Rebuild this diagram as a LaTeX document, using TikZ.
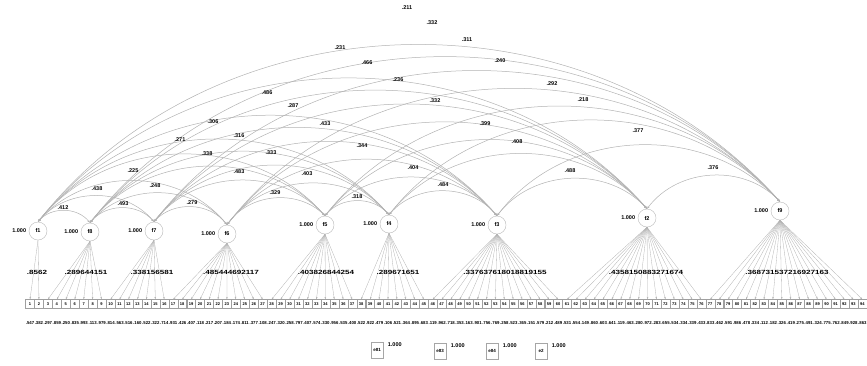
\documentclass[tikz,border=0pt]{standalone}
\usepackage{fontspec}
\usepackage{graphicx}
\setmainfont{Liberation Sans}
\usetikzlibrary{arrows.meta,positioning}
\begin{document}
\begin{tikzpicture}[x=1pt,y=-1pt,
  fac/.style={circle,draw=gray!55,line width=0.4pt,minimum size=18pt,inner sep=0pt,font=\fontsize{5.5}{6}\selectfont\bfseries},
  corr/.style={draw=gray!60,line width=0.5pt,{Stealth[length=3pt,width=2pt]}-{Stealth[length=3pt,width=2pt]}},
  lab/.style={font=\fontsize{5.5}{6}\selectfont\bfseries,inner sep=0.5pt},
  ldlab/.style={font=\fontsize{6}{6}\selectfont\bfseries,inner sep=0pt},
  ind/.style={draw=gray!75,line width=0.3pt,minimum width=8.9pt,minimum height=9pt,inner sep=0pt,font=\fontsize{4}{4}\selectfont\bfseries},
  errlab/.style={font=\fontsize{4.3}{5}\selectfont\bfseries,inner sep=0pt},
  load/.style={draw=gray!60,line width=0.3pt,-{Stealth[length=2.5pt,width=1.6pt]}},
  lone/.style={draw=gray!70,line width=0.4pt,minimum width=12pt,minimum height=16pt,inner sep=0pt,font=\fontsize{4.5}{5}\selectfont\bfseries}]
\useasboundingbox (0,0) rectangle (867,365);
% factors
\node[fac] (f1) at (38,231) {f1};
\node[fac] (f8) at (90,232) {f8};
\node[fac] (f7) at (154,231) {f7};
\node[fac] (f6) at (227,234) {f6};
\node[fac] (f5) at (325,225) {f5};
\node[fac] (f4) at (389,224) {f4};
\node[fac] (f3) at (497,225) {f3};
\node[fac] (f2) at (647,218) {f2};
\node[fac] (f9) at (780,211) {f9};
\foreach \f in {f1,f8,f7,f6,f5,f4,f3,f2,f9}
  \node[lab,left=2pt of \f] (v\f) {1.000};
% correlations
\foreach \a [count=\i] in {f1,f8,f7,f6,f5,f4,f3,f2,f9}{
  \foreach \b [count=\j] in {f1,f8,f7,f6,f5,f4,f3,f2,f9}{
    \ifnum\j>\i \draw[corr] (\a.north) to[bend left=50] (\b.north);\fi
  }
}
\foreach \t/\x/\y [count=\n] in {.211/407/8, .332/432/23, .311/467/40, .231/340/48,
  .466/367/63, .240/500/61, .236/398/80, .292/552/84, .486/267/93, .332/435/101,
  .218/583/100, .287/293/106, .399/485/124, .433/325/124, .377/638/131, .306/213/122,
  .271/180/140, .316/239/136, .344/362/146, .408/517/142, .338/207/154, .333/271/153,
  .225/133/171, .483/239/172, .403/307/174, .404/413/168, .488/570/171, .376/713/168,
  .438/97/189, .248/155/186, .484/443/185, .412/63/208, .493/123/204, .279/192/203,
  .329/275/193, .318/357/197}
  \node[lab] (c\n) at (\x,\y) {\t};
% indicators
\foreach \k [evaluate=\k as \lbl using int(\k+1)] in {0,...,93}
  \node[ind] (x\k) at ({30+8.95*\k},304) {\lbl};
\foreach \f/\s/\e in {f1/0/1, f8/2/8, f7/9/15, f6/16/26, f5/27/36, f4/37/44, f3/45/59, f2/60/75, f9/76/93}
  \foreach \k in {\s,...,\e}
    \draw[load] (\f.south) -- (x\k.north);
% loadings
\foreach \t/\x [count=\n] in {.8562/37, .289644151/86, .338156581/152, .485444692117/231,
  .403826844254/326, .289671651/398, .337637618018819155/505, .4358150883271674/646,
  .368731537216927163/787}
  \node[ldlab,fill=white,fill opacity=0.6,text opacity=1] (l\n) at (\x,272) {\scalebox{1.35}[1]{\t}};
% error variances
\pgfmathsetseed{7}
\foreach \k in {0,...,93}{
  \pgfmathrandominteger{\r}{100}{999}
  \node[errlab] (e\k) at ({30+8.95*\k},323) {.\r};
}
% lone variables
\node[lone] (b1) at (377,350) {e81};
\node[lone] (b2) at (440,351) {e83};
\node[lone] (b3) at (492,351) {e84};
\node[lone] (b4) at (541,351) {e2};
\foreach \b in {b1,b2,b3,b4}
  \node[lab,anchor=south west] (w\b) at ([xshift=4pt,yshift=-5pt]\b.north east) {1.000};
\end{tikzpicture}
\end{document}
